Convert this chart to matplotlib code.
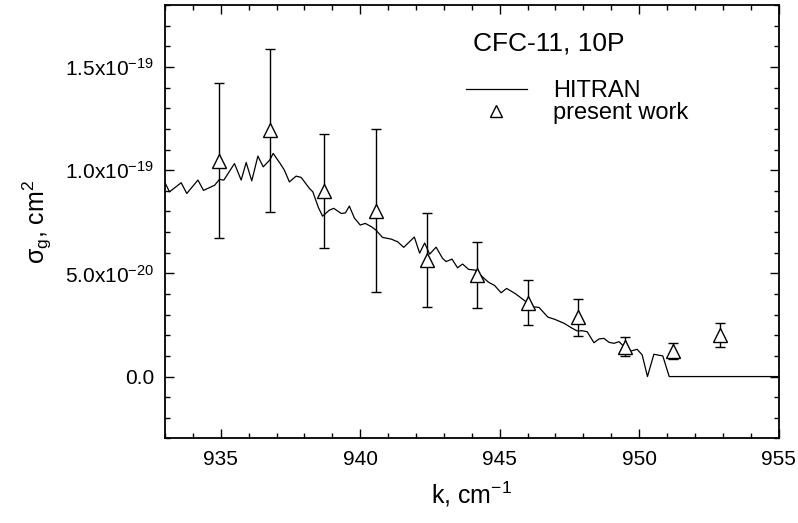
import numpy as np
import matplotlib
matplotlib.use('Agg')
import matplotlib.pyplot as plt
from matplotlib.ticker import MultipleLocator, FuncFormatter
from matplotlib.lines import Line2D

plt.rcParams['font.family'] = ['Liberation Sans', 'DejaVu Sans']
plt.rcParams['mathtext.fontset'] = 'custom'
plt.rcParams['mathtext.rm'] = 'Liberation Sans'
plt.rcParams['mathtext.it'] = 'Liberation Sans:italic'
plt.rcParams['mathtext.default'] = 'regular'

# HITRAN cross section (units of 1e-20 cm^2)
hitran_k = [933.01, 933.16, 933.58, 933.78, 934.18, 934.38, 934.78, 934.95, 935.11, 935.49,
            935.73, 935.91, 936.11, 936.33, 936.52, 936.75, 936.88, 937.13, 937.28, 937.46,
            937.70, 937.88, 938.18, 938.30, 938.50, 938.65, 938.89, 939.05, 939.32, 939.47,
            939.61, 939.79, 940.00, 940.18, 940.40, 940.56, 940.80, 941.11, 941.34, 941.56,
            941.94, 942.13, 942.31, 942.49, 942.72, 942.95, 943.08, 943.29, 943.49, 943.67,
            943.89, 944.12, 944.35, 944.59, 944.82, 945.05, 945.25, 945.58, 945.94, 946.17,
            946.41, 946.73, 946.98, 947.31, 947.60, 947.78, 947.96, 948.14, 948.38, 948.56,
            948.74, 948.92, 949.10, 949.28, 949.46, 949.63, 949.93, 950.11, 950.30, 950.53,
            950.85, 951.08, 955.0]
hitran_s = [9.36, 8.95, 9.39, 8.87, 9.52, 9.02, 9.27, 9.55, 9.52, 10.32,
            9.52, 10.37, 9.48, 10.68, 10.16, 10.48, 10.81, 10.32, 10.00, 9.43,
            9.71, 9.65, 9.11, 8.95, 8.19, 7.77, 8.06, 8.15, 7.90, 7.93,
            8.26, 7.68, 7.34, 7.42, 7.26, 7.10, 6.74, 6.66, 6.53, 6.26,
            6.76, 5.98, 6.47, 5.93, 6.27, 5.73, 5.57, 5.69, 5.27, 5.45,
            5.19, 5.16, 4.87, 4.58, 4.41, 4.06, 4.27, 4.00, 3.63, 3.38,
            3.35, 2.88, 2.77, 2.58, 2.34, 2.21, 2.22, 2.17, 1.64, 1.82,
            1.85, 1.66, 1.61, 1.69, 1.45, 1.21, 1.32, 1.05, 0.0, 1.08,
            1.00, 0.0, 0.0]

# present work (units of 1e-20 cm^2)
meas_k = [934.93, 936.76, 938.7, 940.55, 942.4, 944.2, 946.0, 947.8, 949.5, 951.2, 952.9]
meas_s = [10.45, 11.93, 8.98, 8.03, 5.64, 4.93, 3.58, 2.87, 1.45, 1.24, 2.01]
meas_err = [3.75, 3.95, 2.75, 3.95, 2.27, 1.6, 1.1, 0.9, 0.45, 0.4, 0.6]

# axis ticks
x_ticks = [935, 940, 945, 950, 955]
y_ticks = [0.0, 5e-20, 1e-19, 1.5e-19]

scale = 1e-20
hk = np.array(hitran_k)
hs = np.array(hitran_s) * scale
mk = np.array(meas_k)
ms = np.array(meas_s) * scale
me = np.array(meas_err) * scale

fig = plt.figure(figsize=(7.98, 5.23), dpi=100)
ax = fig.add_axes([0.2068, 0.1616, 0.7688, 0.8288])

ax.plot(hk, hs, color='black', lw=0.9, zorder=2)
ax.errorbar(mk, ms, yerr=me, fmt='none', ecolor='black', elinewidth=1.0,
            capsize=3.3, capthick=1.0, zorder=3)
ax.plot(mk, ms, ls='none', marker='^', ms=10, mfc='white', mec='black', mew=1.0, zorder=4)

ax.set_xlim(933, 955)
ax.set_ylim(-3e-20, 1.8e-19)
ax.set_xticks(x_ticks)
ax.set_yticks(y_ticks)
ax.xaxis.set_minor_locator(MultipleLocator(1))
ax.yaxis.set_minor_locator(MultipleLocator(1e-20))


def yfmt(v, pos):
    if abs(v) < 1e-25:
        return '0.0'
    exp = int(np.floor(np.log10(abs(v))))
    mant = v / 10 ** exp
    return '%.1fx10$^{%d}$' % (mant, exp)


ax.yaxis.set_major_formatter(FuncFormatter(yfmt))
ax.yaxis.get_offset_text().set_visible(False)

ax.tick_params(which='both', direction='in', top=True, right=True, width=1.0)
ax.tick_params(which='major', length=6.3, labelsize=15, pad=8)
ax.tick_params(which='minor', length=3.4)
for sp in ax.spines.values():
    sp.set_linewidth(1.3)

ax.set_xlabel('k, cm$^{-1}$', fontsize=18, labelpad=8)
ax.set_ylabel('σ$_g$, cm$^2$', fontsize=18, labelpad=8)

ax.text(0.502, 0.912, 'CFC-11, 10P', transform=ax.transAxes, fontsize=19, va='center')
handles = [Line2D([], [], color='black', lw=0.9),
           Line2D([], [], ls='none', marker='^', ms=9, mfc='white', mec='black', mew=1.0)]
ax.legend(handles, ['HITRAN', 'present work'], loc='upper left',
          bbox_to_anchor=(0.49, 0.826), frameon=False, fontsize=17, handlelength=2.6,
          handletextpad=1.1, labelspacing=0.0, borderaxespad=0, borderpad=0)

fig.savefig('out.png', dpi=100)
